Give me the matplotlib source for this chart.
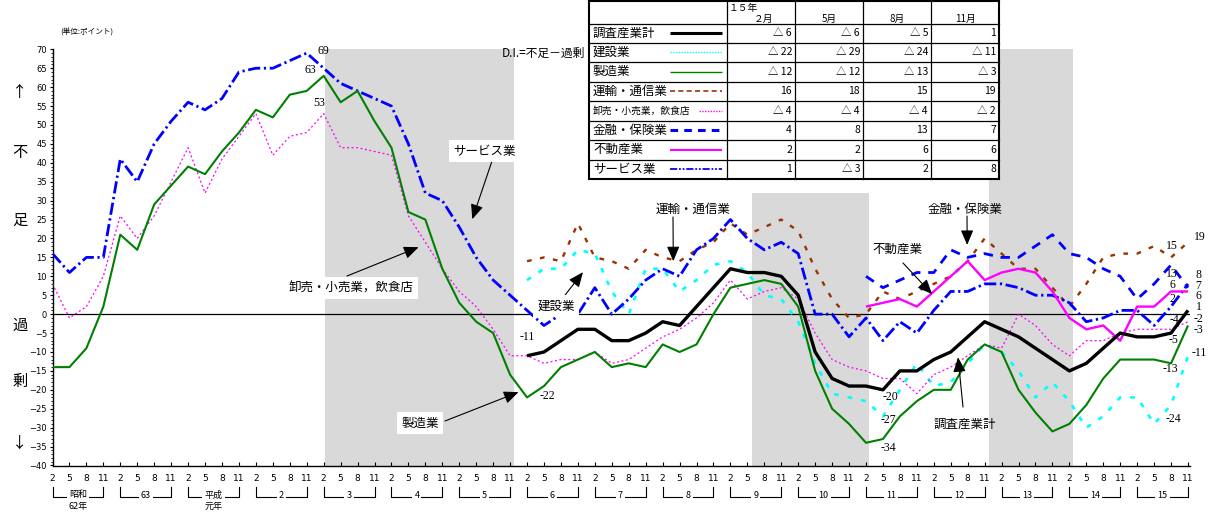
import numpy as np
import matplotlib.pyplot as plt
from matplotlib import transforms
from matplotlib.patches import Rectangle
from matplotlib.ticker import MultipleLocator

plt.rcParams['font.family'] = ['Noto Sans CJK JP', 'DejaVu Sans']

# survey months, Feb 1987 (昭和62年) .. Nov 2003 (平成15年)
months = ['2', '5', '8', '11'] * 17
year_labels = ['昭和', '63', '平成', '2', '3', '4', '5', '6', '7', '8',
               '9', '10', '11', '12', '13', '14', '15']
year_sub = {0: '62年', 2: '元年'}

# D.I. (points), series starting 昭和62年2月
manuf = [-14, -14, -9, 2, 21, 17, 29, 34, 39, 37, 43, 48, 54, 52, 58, 59,
         63, 56, 59, 51, 44, 27, 25, 12, 3, -2, -5, -16, -22, -19, -14, -12,
         -10, -14, -13, -14, -8, -10, -8, 0, 7, 8, 9, 8, 2, -15, -25, -29,
         -34, -33, -27, -23, -20, -20, -12, -8, -10, -20, -26, -31, -29, -24, -17, -12,
         -12, -12, -13, -3]
retail = [8, -1, 2, 10, 26, 20, 26, 35, 44, 32, 41, 47, 53, 42, 47, 48,
          53, 44, 44, 43, 42, 26, 19, 12, 6, 2, -4, -11, -11, -13, -12, -12,
          -10, -13, -12, -9, -6, -4, -1, 3, 9, 4, 6, 7, 4, -5, -12, -14,
          -15, -17, -17, -21, -16, -14, -11, -8, -9, 0, -3, -8, -11, -7, -7, -5,
          -4, -4, -4, -2]
service = [16, 11, 15, 15, 41, 35, 45, 51, 56, 54, 57, 64, 65, 65, 67, 69,
           65, 61, 59, 57, 55, 45, 32, 30, 23, 15, 9, 5, 1, -3, 0, 0,
           7, 0, 4, 9, 12, 10, 17, 20, 25, 20, 17, 19, 16, 0, 0, -6,
           -1, -7, -2, -5, 1, 6, 6, 8, 8, 7, 5, 5, 3, -2, -1, 1,
           1, -3, 2, 8]
# series starting 平成6年2月
total = [-11, -10, -7, -4, -4, -7, -7, -5, -2, -3, 2, 7, 12, 11, 11, 10,
         5, -10, -17, -19, -19, -20, -15, -15, -12, -10, -6, -2, -4, -6, -9, -12,
         -15, -13, -9, -5, -6, -6, -5, 1]
constr = [9, 12, 12, 17, 16, 6, 0, 12, 12, 6, 9, 13, 14, 11, 5, 4,
          -2, -13, -21, -22, -23, -27, -20, -13, -19, -18, -13, -8, -10, -15, -22, -18,
          -23, -30, -27, -22, -22, -29, -24, -11]
transp = [14, 15, 14, 24, 15, 14, 12, 17, 15, 14, 17, 19, 24, 21, 23, 25,
          22, 12, 4, -1, 0, 6, 4, 6, 8, 10, 14, 20, 16, 12, 12, 7,
          2, 8, 15, 16, 16, 18, 15, 19]
# series starting 平成11年2月
finance = [10, 7, 9, 11, 11, 17, 15, 16, 15, 15, 18, 21, 16, 15, 12, 10, 4, 8, 13, 7]
realty = [2, 3, 4, 2, 6, 10, 14, 9, 11, 12, 11, 6, -1, -4, -3, -7, 2, 2, 6, 6]

# shaded periods (quarter index) and their upper value
shade_from = [16.1, 41.25, 55.25]
shade_to = [27.25, 48.2, 60.2]
shade_top = [70, 32, 70]

series = [
    # name, start index, values, plot style, legend-sample style
    ('調査産業計', 28, total, dict(color='black', lw=2.4, zorder=9),
     dict(color='black', lw=2.2)),
    ('建設業', 28, constr, dict(color='#00FFFF', lw=1.9, dashes=(1.8, 3.4), zorder=3),
     dict(color='#00FFFF', lw=1.0, dashes=(1, 1))),
    ('製造業', 0, manuf, dict(color='#008000', lw=1.5, zorder=7),
     dict(color='#008000', lw=1.0)),
    ('運輸・通信業', 28, transp, dict(color='#993300', lw=1.7, dashes=(2.0, 3.6), zorder=4),
     dict(color='#993300', lw=1.2, dashes=(3, 2))),
    ('卸売・小売業，飲食店', 0, retail, dict(color='#FF00FF', lw=0.9, dashes=(1.6, 2.0), zorder=6),
     dict(color='#FF00FF', lw=1.0, dashes=(1, 1))),
    ('金融・保険業', 48, finance, dict(color='#0000FF', lw=2.0, dashes=(3.4, 2.8), zorder=5),
     dict(color='#0000FF', lw=2.2, dashes=(2.5, 2))),
    ('不動産業', 48, realty, dict(color='#FF00FF', lw=1.7, zorder=8),
     dict(color='#FF00FF', lw=1.5)),
    ('サービス業', 0, service, dict(color='#0000FF', lw=2.0, dashes=(4.4, 1.3, 0.8, 1.3), zorder=5),
     dict(color='#0000FF', lw=1.3, dashes=(4, 1, 1, 1, 1, 1))),
]

W, H = 1210, 514
fig = plt.figure(figsize=(W / 100, H / 100), dpi=100, facecolor='white')


def fx(x):
    return x / W


def fy(y):
    return 1 - y / H


ax = fig.add_axes([fx(52.5), fy(465.5), fx(1189.7) - fx(52.5), fy(49.3) - fy(465.5)])
ax.set_xlim(0, 67.1)
ax.set_ylim(-40, 70)

# overlay in pixel coordinates for the table and free text
ov = fig.add_axes([0, 0, 1, 1])
ov.set_xlim(0, W)
ov.set_ylim(H, 0)
ov.axis('off')
ov.set_zorder(5)

for x0, x1, top in zip(shade_from, shade_to, shade_top):
    ax.add_patch(Rectangle((x0, -40), x1 - x0, top + 40, facecolor='#d9d9d9',
                           edgecolor='none', zorder=0))
ax.axhline(0, color='black', lw=0.9, zorder=1)

for name, start, vals, st, _ in series:
    xs = np.arange(start, start + len(vals))
    ax.plot(xs, vals, solid_capstyle='butt', dash_capstyle='butt', **st)

# axes styling
for s in ['top', 'right']:
    ax.spines[s].set_visible(False)
ax.spines['left'].set_linewidth(1.0)
ax.spines['bottom'].set_linewidth(1.0)
ax.set_xticks(np.arange(68))
ax.set_xticklabels(months)
ax.set_yticks(np.arange(-40, 71, 5))
ax.yaxis.set_minor_locator(MultipleLocator(1))
ax.tick_params(axis='x', direction='in', length=3, labelsize=6.5, pad=6)
ax.tick_params(axis='y', which='major', direction='out', length=2.5, labelsize=6, pad=1.5)
ax.tick_params(axis='y', which='minor', direction='out', length=1.2)
for lab in ax.get_xticklabels() + ax.get_yticklabels():
    lab.set_family('DejaVu Sans')

# year brackets under the month labels
trans = transforms.blended_transform_factory(ax.transData, ov.transData)
for k, lab in enumerate(year_labels):
    ax.plot([4 * k, 4 * k, 4 * k + 3, 4 * k + 3], [487, 497, 497, 487],
            transform=trans, color='black', lw=0.8, clip_on=False)
    ax.text(4 * k + 1.5, 495, lab, transform=trans, ha='center', va='center',
            fontsize=6.5, zorder=5,
            bbox=dict(facecolor='white', edgecolor='none', pad=1.5))
    if k in year_sub:
        ax.text(4 * k + 1.5, 507, year_sub[k], transform=trans, ha='center',
                va='center', fontsize=6.5)

# left side captions
for ch, y in zip(['↑', '不', '足', '過', '剰', '↓'], [92, 153, 220, 325, 381, 443]):
    ov.text(20, y, ch, ha='center', va='center', fontsize=11)
ov.text(60, 32, '(単位:ポイント)', ha='left', va='center', fontsize=5.5)
ov.text(585, 53, 'D.I.=不足－過剰', ha='right', va='center', fontsize=8.5)

# value labels at notable points: (series, quarter, text offset px, ha)
lookup = {name: (start, vals) for name, start, vals, _, _ in series}
value_labels = [
    ('サービス業', 15, 17, 2, 'center'), ('製造業', 16, -13, 6, 'center'),
    ('卸売・小売業，飲食店', 16, -4, 11, 'center'),
    ('調査産業計', 28, 0, 19, 'center'), ('製造業', 28, 20, 1, 'center'),
    ('調査産業計', 49, 7, -7, 'center'), ('建設業', 49, 5, -4, 'center'),
    ('製造業', 48, 22, -5, 'center'),
    ('運輸・通信業', 66, 1, 11, 'center'), ('金融・保険業', 66, 1, -9, 'center'),
    ('不動産業', 66, 1, 6, 'center'), ('サービス業', 66, 1, 8, 'center'),
    ('卸売・小売業，飲食店', 66, 3, 9, 'center'), ('調査産業計', 66, 2, -7, 'center'),
    ('製造業', 66, -1, -6, 'center'), ('建設業', 66, 2, -14, 'center'),
    ('運輸・通信業', 67, 6, 5, 'left'), ('サービス業', 67, 7, 9, 'left'),
    ('金融・保険業', 67, 7, 2, 'left'), ('不動産業', 67, 7, -5, 'left'),
    ('調査産業計', 67, 8, 3, 'left'), ('卸売・小売業，飲食店', 67, 6, 3, 'left'),
    ('製造業', 67, 6, -4, 'left'), ('建設業', 67, 4, 3, 'left'),
]
for name, q, dx, dy, ha in value_labels:
    start, vals = lookup[name]
    v = vals[q - start]
    ax.annotate(str(v), xy=(q, v), xytext=(dx, dy), textcoords='offset pixels',
                ha=ha, va='center', fontsize=8.5, family='Liberation Serif',
                annotation_clip=False, zorder=10)

# call-out arrows: (arrow start px, tip quarter, tip value)
arrows = [((492, 161), 24.77, 25.1), ((347, 276), 21.6, 17.7), ((562, 299), 31.3, 11.1),
          ((445, 421), 27.5, -20.6), ((673, 217), 36.63, 14.0), ((967, 216), 53.97, 18.3),
          ((903, 263), 51.9, 5.3), ((963, 407), 53.43, -11.4)]
for (sx, sy), tx, tv in arrows:
    ax.annotate('', xy=(tx, tv), xytext=(sx, sy), textcoords=ov.transData,
                annotation_clip=False, zorder=10,
                arrowprops=dict(arrowstyle='-|>,head_length=0.75,head_width=0.32',
                                color='black', lw=0.8, mutation_scale=12,
                                shrinkA=0, shrinkB=0))

callouts = [('サービス業', 484, 151, True), ('卸売・小売業，飲食店', 351, 288, True),
            ('建設業', 556, 306, True), ('製造業', 420, 423, True),
            ('運輸・通信業', 693, 209, False), ('金融・保険業', 965, 209, False),
            ('不動産業', 897, 249, False), ('調査産業計', 965, 424, False)]
for txt, x, y, boxed in callouts:
    bb = dict(facecolor='white', edgecolor='none', pad=3) if boxed else None
    ov.text(x, y, txt, ha='center', va='center', fontsize=9, bbox=bb)

# summary table (last four surveys of 平成15年)
tbl_months = ['２月', '5月', '8月', '11月']
col_x = [589, 727, 795, 863, 931, 999]
row_y = [1, 23.5, 42.5, 62, 81.5, 101, 120.5, 140, 159.5, 179]
ov.add_patch(Rectangle((col_x[0], row_y[0]), col_x[-1] - col_x[0], row_y[-1] - row_y[0],
                       facecolor='white', edgecolor='none'))
for i, x in enumerate(col_x):
    ov.plot([x, x], [row_y[0], row_y[-1]], color='black',
            lw=1.5 if i in (0, len(col_x) - 1) else 0.9)
for i, y in enumerate(row_y):
    ov.plot([col_x[0], col_x[-1]], [y, y], color='black',
            lw=1.5 if i in (0, len(row_y) - 1) else 0.9)
ov.text(743, 8, '１５年', ha='center', va='center', fontsize=7)
for j, m in enumerate(tbl_months):
    ov.text((col_x[j + 1] + col_x[j + 2]) / 2 + (2 if j == 0 else 0), 18.5, m,
            ha='center', va='center', fontsize=7)


def fmt(v):
    return '△ %d' % -v if v < 0 else str(v)


for r, (name, start, vals, _, sample) in enumerate(series):
    yc = (row_y[r + 1] + row_y[r + 2]) / 2
    small = len(name) > 7
    ov.text(593, yc, name, ha='left', va='center', fontsize=7 if small else 9)
    x0 = 699 if small else 670
    ov.plot([x0, 722], [yc, yc], solid_capstyle='butt', **sample)
    for j, v in enumerate(vals[-4:]):
        ov.text(col_x[j + 2] - 3, yc, fmt(v), ha='right', va='center', fontsize=7.5)

fig.savefig('out.png', dpi=100, facecolor='white')
